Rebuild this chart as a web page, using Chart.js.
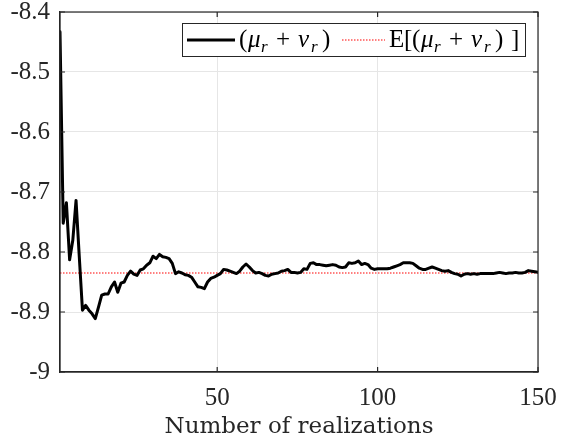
<!DOCTYPE html>
<html><head><meta charset="utf-8">
<script src="https://cdn.jsdelivr.net/npm/chart.js@4/dist/chart.umd.min.js"></script>
<style>html,body{margin:0;padding:0;background:#fff}#wrap{width:561px;height:442px}</style>
</head><body><div id="wrap"><canvas id="c"></canvas></div>
<script>
const realizations = Array.from({length:150}, (_, i) => i + 1);
const sumValues = [
-8.433,-8.752,-8.718,-8.813,-8.780,-8.714,-8.807,-8.897,-8.889,-8.897,
-8.903,-8.911,-8.892,-8.872,-8.870,-8.870,-8.858,-8.850,-8.867,-8.852,
-8.850,-8.839,-8.832,-8.837,-8.839,-8.830,-8.828,-8.822,-8.818,-8.807,
-8.811,-8.804,-8.808,-8.809,-8.811,-8.819,-8.836,-8.833,-8.835,-8.838,
-8.839,-8.842,-8.850,-8.858,-8.859,-8.861,-8.850,-8.844,-8.842,-8.839,
-8.836,-8.829,-8.830,-8.832,-8.834,-8.836,-8.832,-8.825,-8.820,-8.825,
-8.831,-8.835,-8.834,-8.836,-8.839,-8.840,-8.837,-8.836,-8.835,-8.832,
-8.831,-8.829,-8.834,-8.834,-8.835,-8.834,-8.828,-8.829,-8.819,-8.818,
-8.821,-8.821,-8.822,-8.823,-8.822,-8.821,-8.822,-8.825,-8.826,-8.825,
-8.818,-8.819,-8.818,-8.815,-8.821,-8.819,-8.821,-8.827,-8.829,-8.828,
-8.828,-8.828,-8.828,-8.827,-8.825,-8.823,-8.821,-8.818,-8.818,-8.818,
-8.819,-8.823,-8.827,-8.829,-8.829,-8.827,-8.825,-8.827,-8.829,-8.831,
-8.832,-8.831,-8.834,-8.836,-8.837,-8.840,-8.837,-8.836,-8.837,-8.836,
-8.837,-8.836,-8.836,-8.836,-8.836,-8.836,-8.835,-8.834,-8.835,-8.836,
-8.835,-8.835,-8.834,-8.835,-8.835,-8.834,-8.831,-8.832,-8.833,-8.834
];
const meanValue = -8.835;
const xTicks = [50, 100, 150];
const yMin = -9, yMax = -8.4, yStep = 0.1;
const xLabel = 'Number of realizations';

const FONT = '"Liberation Serif","DejaVu Serif",serif';
const TFONT = '"DejaVu Serif","Liberation Serif",serif';
const AXIS = '#262626';

const frame = {
  id:'frame',
  afterDatasetsDraw(chart){
    const {ctx, chartArea:a} = chart;
    ctx.save();
    ctx.strokeStyle = AXIS; ctx.lineWidth = 1.2;
    ctx.strokeRect(a.left, a.top, a.right - a.left, a.bottom - a.top);
    const xs = chart.scales.x, ys = chart.scales.y;
    ctx.beginPath();
    xTicks.forEach(v => { const p = xs.getPixelForValue(v); ctx.moveTo(p, a.bottom); ctx.lineTo(p, a.bottom-5); ctx.moveTo(p, a.top); ctx.lineTo(p, a.top+5); });
    ys.ticks.forEach(t => { const p = ys.getPixelForValue(t.value); ctx.moveTo(a.left, p); ctx.lineTo(a.left+5, p); ctx.moveTo(a.right, p); ctx.lineTo(a.right-5, p); });
    ctx.stroke();
    // legend
    const bx = 182, by = 23, bw = 343, bh = 33;
    ctx.fillStyle = '#fff'; ctx.fillRect(bx, by, bw, bh);
    ctx.strokeStyle = AXIS; ctx.lineWidth = 1; ctx.strokeRect(bx+0.5, by+0.5, bw, bh);
    const cy = by + bh/2 + 0.5;
    ctx.strokeStyle = '#000'; ctx.lineWidth = 3;
    ctx.beginPath(); ctx.moveTo(187, cy); ctx.lineTo(235, cy); ctx.stroke();
    ctx.fillStyle = '#000'; ctx.textBaseline = 'alphabetic';
    const base = cy + 7;
    function put(t, x, it, sz, dy){
      ctx.font = (it ? 'italic ' : '') + (sz||25) + 'px ' + FONT;
      ctx.fillText(t, x, base + (dy||0));
    }
    function expr(x0){
      put('(', x0);
      put('μ', x0+9, true);
      put('r', x0+22, true, 17, 5);
      put('+', x0+37);
      put('ν', x0+59, true);
      put('r', x0+72, true, 17, 5);
      put(')', x0+83);
    }
    expr(239);
    ctx.strokeStyle = '#ff0000'; ctx.lineWidth = 1.2; ctx.setLineDash([1.5,1.5]);
    ctx.beginPath(); ctx.moveTo(342, cy); ctx.lineTo(385, cy); ctx.stroke(); ctx.setLineDash([]);
    put('E', 389);
    put('[', 404);
    expr(412);
    put(']', 511);
    ctx.restore();
  }
};

new Chart(document.getElementById('c'), {
  type:'line',
  data:{
    datasets:[
      {label:'(μr + νr)', data: realizations.map((r,i)=>({x:r, y:sumValues[i]})), borderColor:'#000', borderWidth:3, pointRadius:0, tension:0, fill:false, borderJoinStyle:'round', borderCapStyle:'round'},
      {label:'E[(μr + νr)]', data: [{x:realizations[0], y:meanValue},{x:realizations[realizations.length-1], y:meanValue}], borderColor:'#ff0000', borderWidth:1.2, borderDash:[1.5,1.5], pointRadius:0, fill:false}
    ]
  },
  options:{
    responsive:true, maintainAspectRatio:false, animation:false,
    layout:{padding:{left:0, right:23, top:12, bottom:0}},
    plugins:{legend:{display:false}, tooltip:{enabled:false}},
    scales:{
      x:{type:'linear', min:1, max:150,
        afterBuildTicks: s => { s.ticks = xTicks.map(v=>({value:v})); },
        afterFit: s => { s.height = 70; s.paddingLeft = 0; s.paddingRight = 0; },
        grid:{color:'#e6e6e6', lineWidth:1, drawTicks:false},
        border:{color:AXIS, width:1.2},
        ticks:{color:'#262626', font:{family:FONT, size:25}, padding:11, maxRotation:0, autoSkip:false},
        title:{display:true, text:xLabel, color:'#262626', font:{family:TFONT, size:23}, padding:{top:0, bottom:1}}
      },
      y:{min:yMin, max:yMax,
        afterBuildTicks: s => { const t=[]; for(let i=0;i<=6;i++) t.push({value: +(yMin + i*yStep).toFixed(1)}); s.ticks = t; },
        afterFit: s => { s.width = 60; s.paddingTop = 0; s.paddingBottom = 0; },
        grid:{color:'#e6e6e6', lineWidth:1, drawTicks:false},
        border:{color:AXIS, width:1.2},
        ticks:{color:'#262626', font:{family:FONT, size:25}, padding:10, callback: v => String(+(+v).toFixed(1))}
      }
    }
  },
  plugins:[frame]
});
</script></body></html>
